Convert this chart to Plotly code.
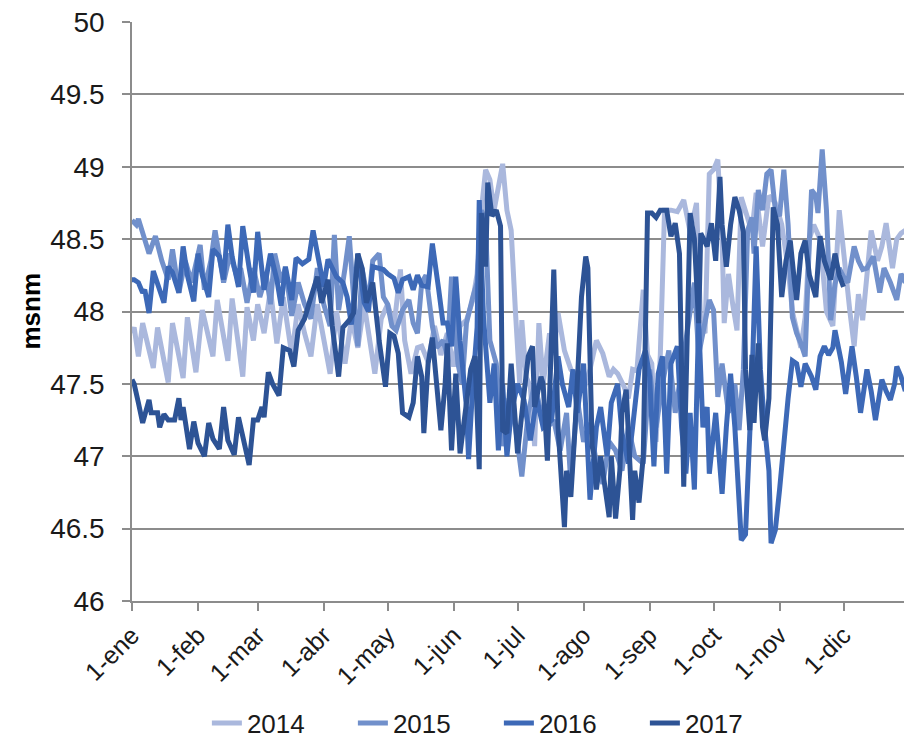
import plotly.graph_objects as go

# ---------------- data (day of year, 0 = 1-ene) ----------------
month_days = [0, 31, 59, 90, 120, 151, 181, 212, 243, 273, 304, 334]
month_labels = ["1-ene", "1-feb", "1-mar", "1-abr", "1-may", "1-jun",
                "1-jul", "1-ago", "1-sep", "1-oct", "1-nov", "1-dic"]

days_2014 = [0, 1, 3, 5, 10, 12, 17, 19, 24, 26, 30, 33, 38, 40, 45, 47, 52, 54, 57, 59,
             62, 65, 68, 71, 75, 78, 81, 84, 87, 90, 93, 96, 100, 103, 106, 109, 114, 117, 120, 123,
             126, 128, 131, 134, 136, 139, 142, 145, 148, 151, 154, 157, 160, 162, 164, 166, 168, 170, 172, 174,
             176, 178, 180, 182, 183, 185, 187, 189, 191, 193, 196, 198, 200, 203, 206, 209, 212, 215, 218, 221,
             224, 226, 228, 231, 233, 235, 237, 240, 242, 244, 246, 248, 250, 253, 256, 259, 262, 265, 267, 269,
             271, 273, 275, 277, 278, 280, 282, 284, 286, 288, 291, 293, 296, 299, 302, 305, 308, 310, 312, 314,
             316, 318, 320, 323, 326, 329, 332, 334, 337, 339, 341, 343, 345, 347, 350, 352, 354, 357, 359, 361, 363]
vals_2014 = [47.85, 47.89, 47.69, 47.92, 47.61, 47.89, 47.51, 47.92, 47.54, 47.96, 47.58, 48.01, 47.69, 48.08, 47.66, 48.09, 47.55, 48.03, 47.80, 48.05,
             47.85, 48.15, 47.78, 48.10, 47.70, 48.05, 47.85, 47.69, 48.05, 47.80, 47.57, 48.00, 47.64, 47.95, 47.75, 48.05, 47.57, 47.95, 48.05, 47.90,
             48.29, 47.80, 47.57, 47.75, 47.76, 47.65, 47.90, 47.70, 47.85, 47.62, 47.90, 47.94, 48.08, 48.26, 48.70, 48.98, 48.91, 48.70, 48.85, 49.02,
             48.70, 48.56, 48.00, 47.50, 47.94, 47.55, 47.48, 47.07, 47.92, 47.50, 47.85, 47.70, 47.99, 47.73, 47.60, 47.55, 47.46, 47.60, 47.80, 47.71,
             47.55, 47.60, 47.57, 47.48, 47.40, 47.60, 47.59, 48.15, 47.70, 47.64, 47.10, 47.70, 48.70, 48.70, 48.69, 48.77, 48.55, 48.75, 47.90, 47.85,
             48.95, 48.98, 49.05, 48.50, 47.92, 48.26, 48.05, 47.87, 48.79, 48.70, 48.55, 48.82, 48.45, 48.80, 48.75, 48.60, 48.30, 48.00, 47.87, 47.75,
             47.96, 48.50, 48.60, 48.50, 48.00, 47.90, 48.70, 48.40, 48.00, 47.76, 48.12, 47.94, 48.30, 48.56, 48.35, 48.45, 48.61, 48.30, 48.50, 48.54, 48.56]

days_2015 = [0, 2, 3, 5, 8, 11, 14, 17, 19, 22, 25, 28, 32, 34, 37, 39, 43, 46, 49, 51,
             54, 57, 60, 63, 65, 67, 70, 72, 75, 78, 81, 84, 87, 90, 93, 95, 97, 100, 102, 104,
             106, 108, 111, 113, 116, 118, 120, 122, 124, 127, 130, 132, 134, 136, 138, 141, 143, 146, 148, 150,
             153, 155, 157, 160, 162, 164, 166, 168, 171, 174, 177, 180, 183, 186, 189, 192, 195, 198, 201, 204,
             206, 209, 212, 215, 218, 221, 224, 227, 230, 233, 236, 240, 243, 246, 249, 252, 255, 258, 261, 264,
             266, 269, 271, 273, 275, 277, 280, 283, 285, 287, 289, 291, 292, 294, 296, 298, 300, 302, 304, 306,
             308, 310, 312, 314, 316, 318, 319, 321, 322, 324, 326, 328, 330, 332, 334, 336, 339, 341, 343, 345,
             348, 351, 353, 356, 359, 361, 363]
vals_2015 = [48.63, 48.60, 48.64, 48.54, 48.40, 48.52, 48.35, 48.22, 48.43, 48.13, 48.35, 48.20, 48.46, 48.15, 48.35, 48.56, 48.20, 48.40, 48.25, 48.30,
             48.06, 48.30, 48.10, 48.25, 48.05, 48.40, 48.20, 48.30, 47.97, 48.20, 48.05, 47.95, 48.30, 48.05, 47.90, 48.53, 48.01, 48.30, 48.52, 48.10,
             47.76, 48.30, 48.05, 48.35, 48.40, 48.10, 48.05, 47.90, 47.87, 48.01, 48.08, 47.92, 47.85, 48.20, 48.25, 47.90, 47.75, 47.80, 47.70, 48.24,
             47.64, 47.50, 47.92, 48.10, 48.20, 48.70, 48.60, 47.80, 47.64, 47.07, 47.40, 47.20, 46.86, 47.30, 47.50, 47.30, 47.20, 47.25, 47.04, 47.30,
             46.81, 47.40, 47.10, 47.23, 46.95, 46.81, 47.10, 47.04, 46.90, 47.20, 47.00, 46.95, 47.60, 47.20, 47.50, 47.73, 47.30, 47.60, 47.90, 48.20,
             47.70, 47.92, 48.08, 48.01, 47.41, 47.64, 47.30, 47.50, 47.18, 47.60, 48.56, 48.65, 48.40, 48.84, 48.70, 48.95, 48.98, 48.70, 48.66, 48.98,
             48.60, 47.96, 47.85, 47.78, 47.69, 48.50, 48.84, 48.80, 48.68, 49.12, 48.70, 47.94, 48.19, 48.30, 48.24, 48.20, 48.45, 48.35, 48.29, 48.30,
             48.38, 48.13, 48.30, 48.20, 48.08, 48.26, 48.20]

days_2016 = [0, 1, 3, 5, 6, 8, 10, 12, 15, 17, 19, 22, 24, 26, 29, 31, 33, 36, 38, 41,
             43, 45, 47, 50, 52, 55, 57, 59, 62, 65, 68, 70, 72, 75, 77, 80, 83, 85, 88, 90,
             92, 96, 99, 101, 103, 106, 109, 111, 113, 116, 118, 120, 123, 125, 127, 130, 132, 134, 136, 139,
             141, 144, 146, 148, 150, 152, 154, 157, 158, 160, 162, 163, 165, 168, 170, 172, 174, 176, 178, 181,
             184, 187, 190, 193, 197, 200, 202, 205, 207, 209, 212, 215, 218, 220, 223, 225, 228, 230, 233, 235,
             238, 241, 243, 245, 247, 249, 251, 253, 256, 258, 260, 262, 264, 266, 268, 270, 271, 274, 277, 279,
             281, 283, 285, 286, 288, 289, 291, 293, 295, 297, 299, 300, 302, 304, 306, 308, 310, 312, 314, 316,
             319, 321, 323, 325, 327, 329, 330, 333, 335, 338, 340, 342, 345, 347, 349, 352, 354, 356, 358, 359,
             361, 363]
vals_2016 = [48.22, 48.22, 48.20, 48.13, 48.15, 47.99, 48.28, 48.20, 48.06, 48.31, 48.27, 48.13, 48.45, 48.25, 48.07, 48.40, 48.25, 48.10, 48.43, 48.38,
             48.22, 48.60, 48.38, 48.17, 48.59, 48.30, 48.13, 48.55, 48.15, 48.40, 48.22, 48.04, 48.31, 48.08, 48.37, 48.33, 48.36, 48.56, 48.30, 48.17,
             48.36, 48.24, 48.20, 48.10, 47.91, 48.40, 48.06, 48.00, 48.31, 48.30, 48.29, 48.26, 48.23, 48.13, 48.22, 48.24, 48.15, 48.25, 48.18, 48.17,
             48.47, 48.15, 47.92, 47.92, 47.76, 48.24, 47.80, 47.34, 46.98, 47.50, 47.89, 48.77, 47.96, 47.37, 47.64, 47.04, 47.50, 47.00, 47.30, 47.50,
             47.39, 47.11, 47.40, 47.20, 47.25, 47.69, 47.50, 47.34, 47.60, 47.30, 47.64, 46.70, 47.20, 47.34, 47.00, 47.37, 47.50, 47.16, 46.95, 47.20,
             47.60, 47.73, 47.55, 46.93, 47.57, 47.69, 46.88, 47.64, 47.76, 47.20, 46.88, 47.30, 46.77, 47.94, 47.20, 47.34, 46.88, 47.30, 46.74, 47.20,
             47.57, 47.20, 46.72, 46.42, 46.46, 46.77, 47.50, 48.45, 47.60, 47.20, 46.90, 46.40, 46.49, 46.77, 47.10, 47.40, 47.66, 47.64, 47.48, 47.64,
             47.55, 47.46, 47.69, 47.76, 47.70, 47.75, 47.87, 47.65, 47.43, 47.76, 47.55, 47.30, 47.60, 47.45, 47.25, 47.53, 47.45, 47.39, 47.50, 47.62,
             47.55, 47.45]

days_2017 = [0, 1, 3, 5, 8, 9, 12, 13, 15, 17, 20, 22, 23, 24, 27, 29, 31, 34, 36, 38,
             41, 43, 45, 48, 50, 52, 55, 57, 59, 61, 62, 64, 66, 69, 71, 74, 76, 78, 81, 83,
             85, 87, 89, 92, 94, 97, 99, 102, 104, 106, 108, 110, 113, 116, 119, 121, 123, 125, 127, 130,
             132, 134, 136, 137, 139, 141, 143, 145, 147, 148, 150, 152, 154, 157, 159, 161, 163, 164, 166, 167,
             169, 171, 173, 174, 176, 178, 181, 184, 186, 188, 189, 192, 193, 195, 198, 200, 203, 204, 206, 208,
             211, 213, 214, 216, 217, 218, 220, 224, 225, 227, 229, 230, 232, 235, 236, 238, 240, 242, 244, 246,
             248, 251, 253, 255, 257, 259, 260, 262, 264, 266, 267, 270, 272, 274, 276, 277, 279, 281, 283, 285,
             287, 288, 290, 291, 292, 294, 296, 297, 299, 301, 303, 305, 307, 309, 311, 312, 314, 316, 318, 321,
             323, 325, 328, 330, 332, 334]
vals_2017 = [47.53, 47.50, 47.37, 47.23, 47.39, 47.30, 47.30, 47.20, 47.29, 47.25, 47.25, 47.40, 47.25, 47.34, 47.05, 47.24, 47.09, 47.00, 47.23, 47.12,
             47.05, 47.34, 47.11, 47.01, 47.27, 47.14, 46.94, 47.25, 47.25, 47.34, 47.27, 47.58, 47.50, 47.42, 47.75, 47.73, 47.62, 47.87, 47.95, 48.05,
             48.15, 48.24, 48.06, 48.22, 47.90, 47.55, 47.89, 47.94, 47.99, 48.40, 48.30, 48.06, 48.20, 47.80, 47.48, 47.85, 47.83, 47.71, 47.30, 47.27,
             47.37, 47.69, 47.55, 47.16, 47.64, 47.82, 47.50, 47.18, 47.50, 47.78, 47.04, 47.57, 47.02, 47.34, 47.60, 47.69, 46.91, 48.68, 48.31, 48.89,
             48.66, 48.70, 48.59, 47.18, 47.16, 47.64, 47.02, 47.43, 47.69, 47.76, 47.34, 47.55, 47.50, 46.97, 48.29, 47.20, 46.51, 46.90, 46.72, 47.20,
             48.10, 48.38, 48.30, 47.07, 47.00, 46.77, 47.00, 46.58, 47.00, 46.57, 46.90, 47.30, 47.46, 46.56, 46.90, 46.68, 47.00, 48.68, 48.68, 48.65,
             48.70, 48.70, 48.52, 48.61, 48.40, 46.79, 47.50, 48.68, 48.50, 47.92, 48.54, 48.45, 48.61, 48.35, 48.93, 48.60, 48.31, 48.60, 48.79, 48.70,
             48.55, 47.60, 47.18, 47.70, 47.23, 47.78, 47.20, 47.11, 47.40, 48.72, 48.60, 48.10, 48.35, 48.49, 48.20, 48.08, 48.40, 48.49, 48.25, 48.10,
             48.52, 48.35, 48.22, 48.40, 48.25, 48.17]

series = [
    ("2014", days_2014, vals_2014, "#AAB8DD"),
    ("2015", days_2015, vals_2015, "#7190CB"),
    ("2016", days_2016, vals_2016, "#3D69B7"),
    ("2017", days_2017, vals_2017, "#2D5395"),
]

FONT = "Liberation Sans"
GRID = "#8C8C8C"

fig = go.Figure()
for name, d, v, c in series:
    fig.add_trace(go.Scatter(x=d, y=v, mode="lines", name=name,
                             line=dict(color=c, width=5)))

fig.update_layout(
    width=904, height=740,
    margin=dict(l=132, r=0, t=22, b=139, autoexpand=False),
    paper_bgcolor="white", plot_bgcolor="white",
    font=dict(family=FONT, color="#1a1a1a"),
    showlegend=True,
    legend=dict(orientation="h", x=0.097, xanchor="left", y=-0.211, yanchor="middle",
                font=dict(size=26, family=FONT, color="#1a1a1a"),
                entrywidth=101, entrywidthmode="pixels", itemwidth=30,
                bgcolor="rgba(0,0,0,0)"),
)

fig.update_xaxes(
    range=[0, 362.4], tickmode="array", tickvals=month_days, ticktext=month_labels,
    tickangle=-45, tickfont=dict(size=25, family=FONT, color="#1a1a1a"),
    showgrid=False, zeroline=False, automargin=False, ticklabeloverflow="allow",
    showline=True, linecolor=GRID, linewidth=1.5,
    ticks="outside", ticklen=8, tickcolor=GRID, tickwidth=1.5,
)
fig.update_yaxes(
    range=[46, 50], dtick=0.5, tick0=46, automargin=False, ticklabeloverflow="allow",
    tickfont=dict(size=28, family=FONT, color="#1a1a1a"),
    showgrid=True, gridcolor=GRID, gridwidth=1.5, zeroline=False,
    showline=True, linecolor=GRID, linewidth=1.5,
    ticks="outside", ticklen=8, tickcolor=GRID, tickwidth=1.5,
    ticklabelstandoff=12,
)

fig.add_annotation(text="<b>msnm</b>", xref="paper", yref="paper",
                   x=(30 - 132) / 772, y=0.5, xanchor="center", yanchor="middle",
                   textangle=-90, showarrow=False,
                   font=dict(size=26, family=FONT, color="#000000"))

# remove the browser's default 8 px body margin so the figure fills the window exactly
fig.write_html("out.html",
               config={"displayModeBar": False},
               post_script="document.body.style.margin='0';document.body.style.overflow='hidden';")
